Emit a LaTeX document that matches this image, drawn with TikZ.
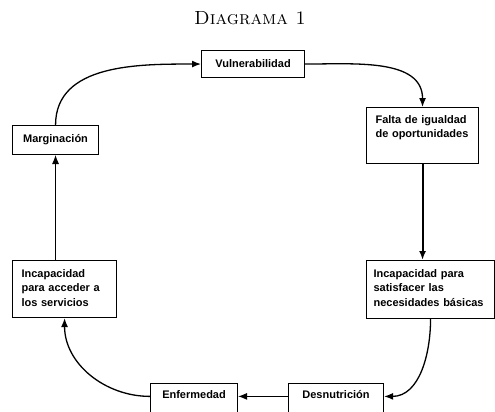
\documentclass[tikz,border=0pt]{standalone}
\usepackage{fontspec}
\newfontfamily\boxfont{Liberation Sans}
\usetikzlibrary{arrows.meta}

\begin{document}
\begin{tikzpicture}[x=1pt,y=-1pt,
  caja/.style={draw,line width=1.1pt,rectangle,anchor=north west,
    font=\boxfont\bfseries\fontsize{11}{14.3}\selectfont,inner xsep=9pt,inner ysep=6pt,
    execute at begin node={\hyphenpenalty=10000}},
  flecha/.style={-{Latex[length=9pt,width=7pt]},line width=1.3pt}]
\useasboundingbox (0,0) rectangle (495,412);
\node[font=\fontsize{19}{19}\selectfont] (titulo) at (250,18) {\textsc{Diagrama 1}};
\node[caja,minimum width=103pt,minimum height=27pt] (vul) at (201,50) {Vulnerabilidad};
\node[caja,text width=94pt,align=left,text height=10pt,text depth=34pt] (fal) at (366,107) {Falta de igualdad\\de oportunidades};
\node[caja,inner xsep=7pt,text width=114pt,align=left,text height=11pt,text depth=35pt] (sat) at (366,260) {Incapacidad para\\satisfacer las\\necesidades básicas};
\node[caja,minimum width=95pt,text height=9pt,text depth=11pt] (des) at (288,383) {Desnutrición};
\node[caja,minimum width=87pt,text height=9pt,text depth=11pt] (enf) at (150,383) {Enfermedad};
\node[caja,text width=86pt,align=left,text height=11pt,text depth=34pt] (acc) at (12,260) {Incapacidad\\para acceder a\\los servicios};
\node[caja,minimum width=86pt,minimum height=29pt] (marg) at (12,125) {Marginación};
\draw[flecha] (marg.north) to[out=90,in=180] (vul.west);
\draw[flecha] (vul.east) to[out=0,in=90] (fal.north);
\draw[flecha,line width=2pt] (fal.south) -- (fal.south |- sat.north);
\draw[flecha] (sat.south) to[out=-90,in=0] (des.mid east);
\draw[flecha,line width=1pt] (des.mid west) -- (enf.mid east);
\draw[flecha] (enf.mid west) to[out=180,in=-90] (acc.south);
\draw[flecha,line width=0.7pt] (acc.north -| marg.south) -- (marg.south);
\end{tikzpicture}
\end{document}
